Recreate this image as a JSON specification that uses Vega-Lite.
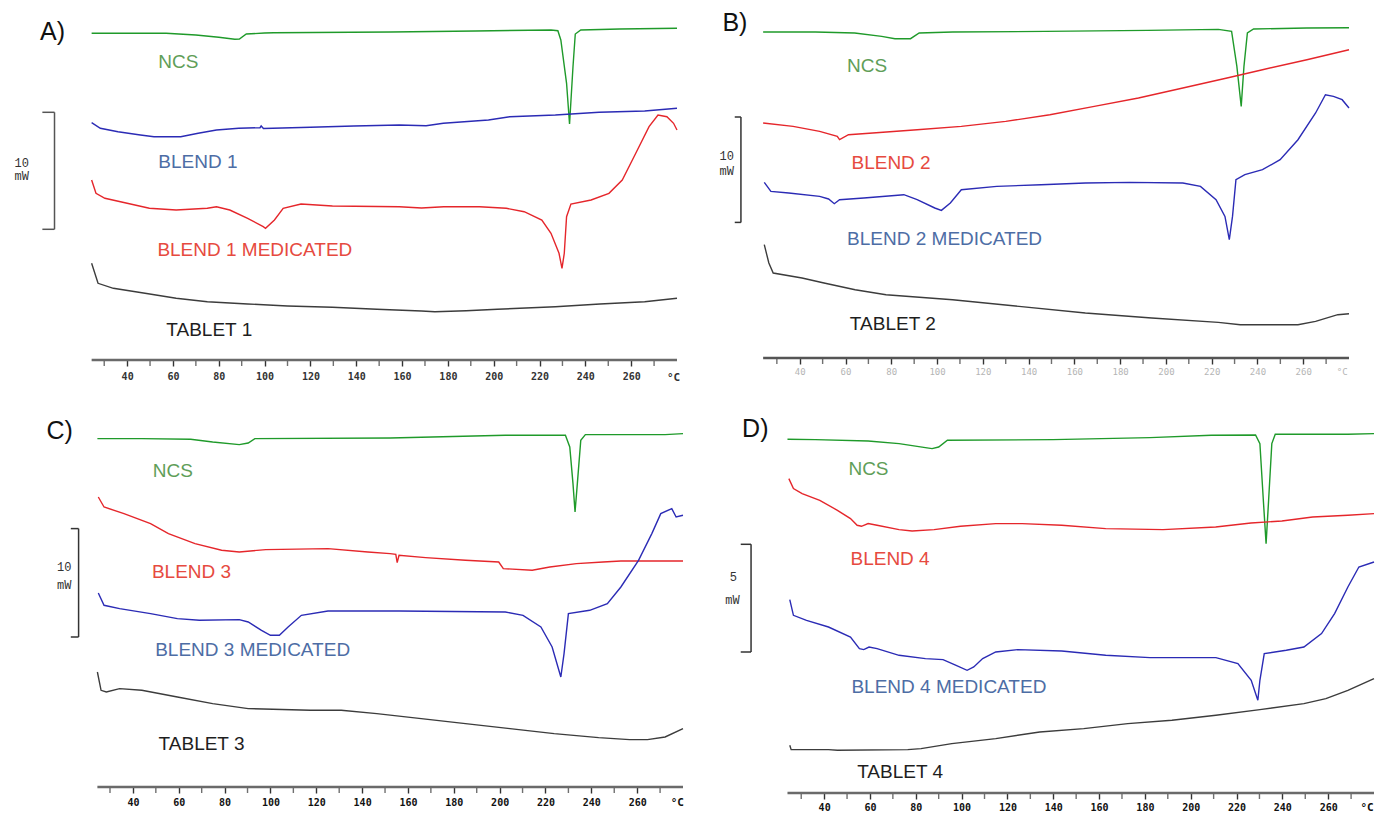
{
"$schema": "https://vega.github.io/schema/vega-lite/v6.json",
"padding": {"left": 8, "top": 10, "right": 0, "bottom": 0},
"background": "white",
"config": {"view": {"stroke": null}},
"columns": 2,
"spacing": {"row": 50, "column": 22},
"bounds": "flush",
"align": "each",
"datasets": {
"curves": [
{"p":"A","s":"NCS","T":24.5,"h":326.7},{"p":"A","s":"NCS","T":40,"h":326.7},{"p":"A","s":"NCS","T":57,"h":326.7},{"p":"A","s":"NCS","T":70,"h":325},{"p":"A","s":"NCS","T":80,"h":322.7},{"p":"A","s":"NCS","T":87,"h":320.7},{"p":"A","s":"NCS","T":89,"h":321},{"p":"A","s":"NCS","T":92,"h":326},{"p":"A","s":"NCS","T":100,"h":327},{"p":"A","s":"NCS","T":104,"h":327.3},{"p":"A","s":"NCS","T":155,"h":328},{"p":"A","s":"NCS","T":192,"h":329},{"p":"A","s":"NCS","T":225,"h":330},{"p":"A","s":"NCS","T":228,"h":329.3},{"p":"A","s":"NCS","T":229.3,"h":320},{"p":"A","s":"NCS","T":231.8,"h":276.7},{"p":"A","s":"NCS","T":233.1,"h":236},{"p":"A","s":"NCS","T":234.6,"h":293.3},{"p":"A","s":"NCS","T":235.6,"h":326},{"p":"A","s":"NCS","T":238,"h":330},{"p":"A","s":"NCS","T":255,"h":331},{"p":"A","s":"NCS","T":280,"h":331.7},
{"p":"A","s":"BLEND 1","T":24.5,"h":237.3},{"p":"A","s":"BLEND 1","T":28.3,"h":231.7},{"p":"A","s":"BLEND 1","T":36,"h":228.3},{"p":"A","s":"BLEND 1","T":45.8,"h":225},{"p":"A","s":"BLEND 1","T":51.7,"h":223.3},{"p":"A","s":"BLEND 1","T":63.4,"h":223.3},{"p":"A","s":"BLEND 1","T":71,"h":226.7},{"p":"A","s":"BLEND 1","T":79,"h":230},{"p":"A","s":"BLEND 1","T":88.7,"h":231.7},{"p":"A","s":"BLEND 1","T":98,"h":232.3},{"p":"A","s":"BLEND 1","T":98.5,"h":234},{"p":"A","s":"BLEND 1","T":99.5,"h":231.5},{"p":"A","s":"BLEND 1","T":120,"h":232.7},{"p":"A","s":"BLEND 1","T":139,"h":234},{"p":"A","s":"BLEND 1","T":158.8,"h":235},{"p":"A","s":"BLEND 1","T":170.5,"h":234.3},{"p":"A","s":"BLEND 1","T":178,"h":236.7},{"p":"A","s":"BLEND 1","T":197.7,"h":240},{"p":"A","s":"BLEND 1","T":207,"h":243.3},{"p":"A","s":"BLEND 1","T":226.9,"h":245},{"p":"A","s":"BLEND 1","T":246,"h":247.7},{"p":"A","s":"BLEND 1","T":265.9,"h":249},{"p":"A","s":"BLEND 1","T":280,"h":251.7},
{"p":"A","s":"BLEND 1 MEDICATED","T":24.5,"h":180},{"p":"A","s":"BLEND 1 MEDICATED","T":26.4,"h":166.7},{"p":"A","s":"BLEND 1 MEDICATED","T":30.3,"h":161.7},{"p":"A","s":"BLEND 1 MEDICATED","T":40,"h":156.7},{"p":"A","s":"BLEND 1 MEDICATED","T":49.7,"h":151.7},{"p":"A","s":"BLEND 1 MEDICATED","T":61.4,"h":150},{"p":"A","s":"BLEND 1 MEDICATED","T":75,"h":151.7},{"p":"A","s":"BLEND 1 MEDICATED","T":79,"h":153.3},{"p":"A","s":"BLEND 1 MEDICATED","T":84.8,"h":150},{"p":"A","s":"BLEND 1 MEDICATED","T":92.6,"h":141.7},{"p":"A","s":"BLEND 1 MEDICATED","T":99.4,"h":133.3},{"p":"A","s":"BLEND 1 MEDICATED","T":100.4,"h":131.7},{"p":"A","s":"BLEND 1 MEDICATED","T":104.3,"h":140},{"p":"A","s":"BLEND 1 MEDICATED","T":108.1,"h":151.7},{"p":"A","s":"BLEND 1 MEDICATED","T":115.9,"h":156},{"p":"A","s":"BLEND 1 MEDICATED","T":129.6,"h":154},{"p":"A","s":"BLEND 1 MEDICATED","T":158.8,"h":153.3},{"p":"A","s":"BLEND 1 MEDICATED","T":168.5,"h":152},{"p":"A","s":"BLEND 1 MEDICATED","T":178.2,"h":153.3},{"p":"A","s":"BLEND 1 MEDICATED","T":193.8,"h":153.3},{"p":"A","s":"BLEND 1 MEDICATED","T":205.5,"h":151.7},{"p":"A","s":"BLEND 1 MEDICATED","T":213.3,"h":148.3},{"p":"A","s":"BLEND 1 MEDICATED","T":221,"h":140},{"p":"A","s":"BLEND 1 MEDICATED","T":225,"h":126.7},{"p":"A","s":"BLEND 1 MEDICATED","T":228.5,"h":106.7},{"p":"A","s":"BLEND 1 MEDICATED","T":229.8,"h":91.7},{"p":"A","s":"BLEND 1 MEDICATED","T":230.8,"h":106.7},{"p":"A","s":"BLEND 1 MEDICATED","T":231.8,"h":143.3},{"p":"A","s":"BLEND 1 MEDICATED","T":233.7,"h":156},{"p":"A","s":"BLEND 1 MEDICATED","T":242.5,"h":160},{"p":"A","s":"BLEND 1 MEDICATED","T":250.3,"h":166.7},{"p":"A","s":"BLEND 1 MEDICATED","T":256.1,"h":180},{"p":"A","s":"BLEND 1 MEDICATED","T":262,"h":206.7},{"p":"A","s":"BLEND 1 MEDICATED","T":267.8,"h":233.3},{"p":"A","s":"BLEND 1 MEDICATED","T":271.7,"h":245},{"p":"A","s":"BLEND 1 MEDICATED","T":275.6,"h":243.3},{"p":"A","s":"BLEND 1 MEDICATED","T":278.5,"h":236.7},{"p":"A","s":"BLEND 1 MEDICATED","T":280,"h":230},
{"p":"A","s":"TABLET 1","T":24.5,"h":96.7},{"p":"A","s":"TABLET 1","T":27.3,"h":76.7},{"p":"A","s":"TABLET 1","T":34,"h":71.7},{"p":"A","s":"TABLET 1","T":47.8,"h":66.7},{"p":"A","s":"TABLET 1","T":61.4,"h":61.7},{"p":"A","s":"TABLET 1","T":75,"h":58.3},{"p":"A","s":"TABLET 1","T":92.6,"h":56},{"p":"A","s":"TABLET 1","T":110,"h":54},{"p":"A","s":"TABLET 1","T":129.6,"h":52.7},{"p":"A","s":"TABLET 1","T":149,"h":50.7},{"p":"A","s":"TABLET 1","T":168.5,"h":49},{"p":"A","s":"TABLET 1","T":174.3,"h":48.3},{"p":"A","s":"TABLET 1","T":188,"h":49.3},{"p":"A","s":"TABLET 1","T":201.6,"h":50.7},{"p":"A","s":"TABLET 1","T":226.9,"h":53.3},{"p":"A","s":"TABLET 1","T":246.4,"h":56},{"p":"A","s":"TABLET 1","T":265.9,"h":58.3},{"p":"A","s":"TABLET 1","T":280,"h":61.7},

{"p":"B","s":"NCS","T":24,"h":326},{"p":"B","s":"NCS","T":46.8,"h":326},{"p":"B","s":"NCS","T":64,"h":325},{"p":"B","s":"NCS","T":75.8,"h":321.6},{"p":"B","s":"NCS","T":81.6,"h":319.3},{"p":"B","s":"NCS","T":88.4,"h":319.3},{"p":"B","s":"NCS","T":92.2,"h":325},{"p":"B","s":"NCS","T":106.8,"h":326},{"p":"B","s":"NCS","T":147.4,"h":326.6},{"p":"B","s":"NCS","T":191.9,"h":327.6},{"p":"B","s":"NCS","T":222.9,"h":328.6},{"p":"B","s":"NCS","T":228.7,"h":326.6},{"p":"B","s":"NCS","T":231,"h":291.6},{"p":"B","s":"NCS","T":232.9,"h":251.6},{"p":"B","s":"NCS","T":234.1,"h":291.6},{"p":"B","s":"NCS","T":235.6,"h":325},{"p":"B","s":"NCS","T":238.3,"h":329},{"p":"B","s":"NCS","T":261.5,"h":330},{"p":"B","s":"NCS","T":280,"h":330.3},
{"p":"B","s":"BLEND 2","T":24,"h":235},{"p":"B","s":"BLEND 2","T":37.1,"h":231.6},{"p":"B","s":"BLEND 2","T":48.7,"h":226.6},{"p":"B","s":"BLEND 2","T":56.4,"h":221.6},{"p":"B","s":"BLEND 2","T":57.4,"h":218.3},{"p":"B","s":"BLEND 2","T":61.3,"h":223.3},{"p":"B","s":"BLEND 2","T":71.9,"h":225},{"p":"B","s":"BLEND 2","T":91.3,"h":228.3},{"p":"B","s":"BLEND 2","T":110.6,"h":231.6},{"p":"B","s":"BLEND 2","T":130,"h":236.6},{"p":"B","s":"BLEND 2","T":149.3,"h":243.3},{"p":"B","s":"BLEND 2","T":168.7,"h":251.6},{"p":"B","s":"BLEND 2","T":188,"h":260},{"p":"B","s":"BLEND 2","T":207.4,"h":270},{"p":"B","s":"BLEND 2","T":226.7,"h":280},{"p":"B","s":"BLEND 2","T":242.2,"h":288.3},{"p":"B","s":"BLEND 2","T":261.6,"h":298.3},{"p":"B","s":"BLEND 2","T":280,"h":308.3},
{"p":"B","s":"BLEND 2 MEDICATED","T":24.5,"h":175.6},{"p":"B","s":"BLEND 2 MEDICATED","T":27.4,"h":166.6},{"p":"B","s":"BLEND 2 MEDICATED","T":35.2,"h":165},{"p":"B","s":"BLEND 2 MEDICATED","T":48.7,"h":161.6},{"p":"B","s":"BLEND 2 MEDICATED","T":52.6,"h":159},{"p":"B","s":"BLEND 2 MEDICATED","T":55.1,"h":154.3},{"p":"B","s":"BLEND 2 MEDICATED","T":57.4,"h":158.3},{"p":"B","s":"BLEND 2 MEDICATED","T":68,"h":160},{"p":"B","s":"BLEND 2 MEDICATED","T":85.5,"h":163.3},{"p":"B","s":"BLEND 2 MEDICATED","T":91.3,"h":158.3},{"p":"B","s":"BLEND 2 MEDICATED","T":99,"h":150},{"p":"B","s":"BLEND 2 MEDICATED","T":101.9,"h":147.6},{"p":"B","s":"BLEND 2 MEDICATED","T":105.8,"h":155},{"p":"B","s":"BLEND 2 MEDICATED","T":110.6,"h":168.3},{"p":"B","s":"BLEND 2 MEDICATED","T":126.1,"h":171.6},{"p":"B","s":"BLEND 2 MEDICATED","T":145.5,"h":173.3},{"p":"B","s":"BLEND 2 MEDICATED","T":164.8,"h":175},{"p":"B","s":"BLEND 2 MEDICATED","T":184.2,"h":175.6},{"p":"B","s":"BLEND 2 MEDICATED","T":207.4,"h":175},{"p":"B","s":"BLEND 2 MEDICATED","T":215.1,"h":171.6},{"p":"B","s":"BLEND 2 MEDICATED","T":221.9,"h":158.3},{"p":"B","s":"BLEND 2 MEDICATED","T":225.8,"h":141.6},{"p":"B","s":"BLEND 2 MEDICATED","T":227.7,"h":118.3},{"p":"B","s":"BLEND 2 MEDICATED","T":229.1,"h":141.6},{"p":"B","s":"BLEND 2 MEDICATED","T":230.6,"h":178.3},{"p":"B","s":"BLEND 2 MEDICATED","T":234.5,"h":183.3},{"p":"B","s":"BLEND 2 MEDICATED","T":242.2,"h":188.3},{"p":"B","s":"BLEND 2 MEDICATED","T":249.9,"h":198.3},{"p":"B","s":"BLEND 2 MEDICATED","T":257.7,"h":218.3},{"p":"B","s":"BLEND 2 MEDICATED","T":265.4,"h":245},{"p":"B","s":"BLEND 2 MEDICATED","T":269.7,"h":263.3},{"p":"B","s":"BLEND 2 MEDICATED","T":273.2,"h":261.6},{"p":"B","s":"BLEND 2 MEDICATED","T":277,"h":258.3},{"p":"B","s":"BLEND 2 MEDICATED","T":280,"h":250},
{"p":"B","s":"TABLET 2","T":24.5,"h":113.3},{"p":"B","s":"TABLET 2","T":26.5,"h":95},{"p":"B","s":"TABLET 2","T":28.4,"h":85},{"p":"B","s":"TABLET 2","T":41,"h":80},{"p":"B","s":"TABLET 2","T":50.6,"h":75},{"p":"B","s":"TABLET 2","T":64.2,"h":68.3},{"p":"B","s":"TABLET 2","T":77.7,"h":63.3},{"p":"B","s":"TABLET 2","T":106.8,"h":58.3},{"p":"B","s":"TABLET 2","T":135.8,"h":51.6},{"p":"B","s":"TABLET 2","T":164.8,"h":45},{"p":"B","s":"TABLET 2","T":193.8,"h":40},{"p":"B","s":"TABLET 2","T":222.9,"h":35.6},{"p":"B","s":"TABLET 2","T":232.5,"h":33.3},{"p":"B","s":"TABLET 2","T":257.7,"h":33.3},{"p":"B","s":"TABLET 2","T":265.4,"h":36.6},{"p":"B","s":"TABLET 2","T":275.1,"h":43.3},{"p":"B","s":"TABLET 2","T":280,"h":44.3},

{"p":"C","s":"NCS","T":24.5,"h":348.4},{"p":"C","s":"NCS","T":43.9,"h":348.4},{"p":"C","s":"NCS","T":65.2,"h":347.7},{"p":"C","s":"NCS","T":74.8,"h":345},{"p":"C","s":"NCS","T":86.4,"h":342.4},{"p":"C","s":"NCS","T":90.3,"h":344},{"p":"C","s":"NCS","T":93.2,"h":348.4},{"p":"C","s":"NCS","T":152.2,"h":349},{"p":"C","s":"NCS","T":202.5,"h":351.7},{"p":"C","s":"NCS","T":228.7,"h":351.7},{"p":"C","s":"NCS","T":230.6,"h":340},{"p":"C","s":"NCS","T":232,"h":303.4},{"p":"C","s":"NCS","T":232.9,"h":275},{"p":"C","s":"NCS","T":233.9,"h":303.4},{"p":"C","s":"NCS","T":235.4,"h":346.7},{"p":"C","s":"NCS","T":237.4,"h":352.4},{"p":"C","s":"NCS","T":272.2,"h":352.4},{"p":"C","s":"NCS","T":280,"h":353.4},
{"p":"C","s":"BLEND 3","T":24.9,"h":290},{"p":"C","s":"BLEND 3","T":27.4,"h":280},{"p":"C","s":"BLEND 3","T":36.1,"h":273.4},{"p":"C","s":"BLEND 3","T":47.7,"h":263.4},{"p":"C","s":"BLEND 3","T":55.5,"h":253.4},{"p":"C","s":"BLEND 3","T":67.1,"h":243.4},{"p":"C","s":"BLEND 3","T":78.7,"h":236.7},{"p":"C","s":"BLEND 3","T":86.4,"h":235},{"p":"C","s":"BLEND 3","T":98,"h":237.4},{"p":"C","s":"BLEND 3","T":125.1,"h":238.4},{"p":"C","s":"BLEND 3","T":142.5,"h":235},{"p":"C","s":"BLEND 3","T":152.2,"h":233.4},{"p":"C","s":"BLEND 3","T":154.7,"h":232.7},{"p":"C","s":"BLEND 3","T":155.3,"h":224.4},{"p":"C","s":"BLEND 3","T":156.1,"h":231.7},{"p":"C","s":"BLEND 3","T":167.7,"h":229.4},{"p":"C","s":"BLEND 3","T":185.1,"h":226.7},{"p":"C","s":"BLEND 3","T":199.6,"h":225},{"p":"C","s":"BLEND 3","T":201.6,"h":218.4},{"p":"C","s":"BLEND 3","T":214.2,"h":216.7},{"p":"C","s":"BLEND 3","T":221.9,"h":220},{"p":"C","s":"BLEND 3","T":233.5,"h":223.4},{"p":"C","s":"BLEND 3","T":245.1,"h":225},{"p":"C","s":"BLEND 3","T":252.9,"h":226},{"p":"C","s":"BLEND 3","T":280,"h":226},
{"p":"C","s":"BLEND 3 MEDICATED","T":24.9,"h":194},{"p":"C","s":"BLEND 3 MEDICATED","T":27.4,"h":181.7},{"p":"C","s":"BLEND 3 MEDICATED","T":34.2,"h":178.4},{"p":"C","s":"BLEND 3 MEDICATED","T":47.7,"h":173.4},{"p":"C","s":"BLEND 3 MEDICATED","T":59.4,"h":168.4},{"p":"C","s":"BLEND 3 MEDICATED","T":69,"h":166.7},{"p":"C","s":"BLEND 3 MEDICATED","T":86.4,"h":167.4},{"p":"C","s":"BLEND 3 MEDICATED","T":90.3,"h":165},{"p":"C","s":"BLEND 3 MEDICATED","T":96.1,"h":156.7},{"p":"C","s":"BLEND 3 MEDICATED","T":100,"h":151.7},{"p":"C","s":"BLEND 3 MEDICATED","T":103.9,"h":151.7},{"p":"C","s":"BLEND 3 MEDICATED","T":107.7,"h":160},{"p":"C","s":"BLEND 3 MEDICATED","T":113.5,"h":171.7},{"p":"C","s":"BLEND 3 MEDICATED","T":125.1,"h":176},{"p":"C","s":"BLEND 3 MEDICATED","T":156.1,"h":176},{"p":"C","s":"BLEND 3 MEDICATED","T":202.5,"h":175},{"p":"C","s":"BLEND 3 MEDICATED","T":210.2,"h":171.7},{"p":"C","s":"BLEND 3 MEDICATED","T":218,"h":160},{"p":"C","s":"BLEND 3 MEDICATED","T":222.9,"h":140},{"p":"C","s":"BLEND 3 MEDICATED","T":226.7,"h":110},{"p":"C","s":"BLEND 3 MEDICATED","T":228.1,"h":133.4},{"p":"C","s":"BLEND 3 MEDICATED","T":230,"h":173.4},{"p":"C","s":"BLEND 3 MEDICATED","T":239.3,"h":176.7},{"p":"C","s":"BLEND 3 MEDICATED","T":247,"h":183.4},{"p":"C","s":"BLEND 3 MEDICATED","T":252.9,"h":200},{"p":"C","s":"BLEND 3 MEDICATED","T":260.6,"h":226.7},{"p":"C","s":"BLEND 3 MEDICATED","T":266.4,"h":253.4},{"p":"C","s":"BLEND 3 MEDICATED","T":270.3,"h":273.4},{"p":"C","s":"BLEND 3 MEDICATED","T":275.1,"h":278.4},{"p":"C","s":"BLEND 3 MEDICATED","T":277,"h":270},{"p":"C","s":"BLEND 3 MEDICATED","T":280,"h":271.7},
{"p":"C","s":"TABLET 3","T":24.5,"h":115},{"p":"C","s":"TABLET 3","T":26.1,"h":96.7},{"p":"C","s":"TABLET 3","T":28.4,"h":95},{"p":"C","s":"TABLET 3","T":34.2,"h":98.4},{"p":"C","s":"TABLET 3","T":43.9,"h":96.7},{"p":"C","s":"TABLET 3","T":59.4,"h":90},{"p":"C","s":"TABLET 3","T":74.8,"h":83.4},{"p":"C","s":"TABLET 3","T":90.3,"h":78.4},{"p":"C","s":"TABLET 3","T":117.4,"h":76.7},{"p":"C","s":"TABLET 3","T":130.9,"h":76.7},{"p":"C","s":"TABLET 3","T":146.4,"h":73.4},{"p":"C","s":"TABLET 3","T":165.8,"h":68.4},{"p":"C","s":"TABLET 3","T":185.1,"h":63.4},{"p":"C","s":"TABLET 3","T":204.5,"h":58.4},{"p":"C","s":"TABLET 3","T":223.8,"h":53.4},{"p":"C","s":"TABLET 3","T":243.2,"h":49.4},{"p":"C","s":"TABLET 3","T":256.7,"h":47.4},{"p":"C","s":"TABLET 3","T":264.5,"h":47.4},{"p":"C","s":"TABLET 3","T":272.2,"h":50},{"p":"C","s":"TABLET 3","T":280,"h":58.4},

{"p":"D","s":"NCS","T":24,"h":353.7},{"p":"D","s":"NCS","T":36.2,"h":353.4},{"p":"D","s":"NCS","T":59.2,"h":352},{"p":"D","s":"NCS","T":72.7,"h":349.4},{"p":"D","s":"NCS","T":84.2,"h":345.4},{"p":"D","s":"NCS","T":87.1,"h":344.4},{"p":"D","s":"NCS","T":90,"h":346},{"p":"D","s":"NCS","T":93.8,"h":352.7},{"p":"D","s":"NCS","T":139.9,"h":353.4},{"p":"D","s":"NCS","T":182.2,"h":355.4},{"p":"D","s":"NCS","T":209,"h":357.7},{"p":"D","s":"NCS","T":228.3,"h":358},{"p":"D","s":"NCS","T":230.2,"h":349.4},{"p":"D","s":"NCS","T":231.7,"h":292.7},{"p":"D","s":"NCS","T":232.9,"h":249.4},{"p":"D","s":"NCS","T":234,"h":292.7},{"p":"D","s":"NCS","T":235.4,"h":349.4},{"p":"D","s":"NCS","T":236.9,"h":358.7},{"p":"D","s":"NCS","T":268.6,"h":358.7},{"p":"D","s":"NCS","T":280,"h":359.4},
{"p":"D","s":"BLEND 4","T":24.6,"h":314.4},{"p":"D","s":"BLEND 4","T":26.6,"h":304.4},{"p":"D","s":"BLEND 4","T":30.4,"h":299.4},{"p":"D","s":"BLEND 4","T":38.1,"h":292.7},{"p":"D","s":"BLEND 4","T":45.8,"h":282.7},{"p":"D","s":"BLEND 4","T":51.5,"h":274.4},{"p":"D","s":"BLEND 4","T":54.4,"h":267.7},{"p":"D","s":"BLEND 4","T":56.3,"h":266.7},{"p":"D","s":"BLEND 4","T":59.2,"h":269.4},{"p":"D","s":"BLEND 4","T":63.1,"h":267.7},{"p":"D","s":"BLEND 4","T":72.7,"h":263.4},{"p":"D","s":"BLEND 4","T":78.4,"h":262},{"p":"D","s":"BLEND 4","T":88,"h":263.4},{"p":"D","s":"BLEND 4","T":99.5,"h":266.7},{"p":"D","s":"BLEND 4","T":114.9,"h":269.4},{"p":"D","s":"BLEND 4","T":126.4,"h":269.4},{"p":"D","s":"BLEND 4","T":143.7,"h":267.7},{"p":"D","s":"BLEND 4","T":162.9,"h":264.4},{"p":"D","s":"BLEND 4","T":187.9,"h":263.4},{"p":"D","s":"BLEND 4","T":210.9,"h":266},{"p":"D","s":"BLEND 4","T":226.3,"h":270},{"p":"D","s":"BLEND 4","T":239.8,"h":272},{"p":"D","s":"BLEND 4","T":253.2,"h":276},{"p":"D","s":"BLEND 4","T":268.6,"h":277.7},{"p":"D","s":"BLEND 4","T":280,"h":279.4},
{"p":"D","s":"BLEND 4 MEDICATED","T":25,"h":193.4},{"p":"D","s":"BLEND 4 MEDICATED","T":26.6,"h":177.7},{"p":"D","s":"BLEND 4 MEDICATED","T":32.3,"h":172.7},{"p":"D","s":"BLEND 4 MEDICATED","T":41.9,"h":166},{"p":"D","s":"BLEND 4 MEDICATED","T":51.5,"h":156},{"p":"D","s":"BLEND 4 MEDICATED","T":55.4,"h":144.4},{"p":"D","s":"BLEND 4 MEDICATED","T":57.3,"h":143.4},{"p":"D","s":"BLEND 4 MEDICATED","T":59.6,"h":146},{"p":"D","s":"BLEND 4 MEDICATED","T":63.1,"h":144.4},{"p":"D","s":"BLEND 4 MEDICATED","T":72.7,"h":137.7},{"p":"D","s":"BLEND 4 MEDICATED","T":84.2,"h":134.4},{"p":"D","s":"BLEND 4 MEDICATED","T":91.9,"h":133.4},{"p":"D","s":"BLEND 4 MEDICATED","T":97.6,"h":127.7},{"p":"D","s":"BLEND 4 MEDICATED","T":102.4,"h":122.7},{"p":"D","s":"BLEND 4 MEDICATED","T":105.3,"h":126},{"p":"D","s":"BLEND 4 MEDICATED","T":109.2,"h":134.4},{"p":"D","s":"BLEND 4 MEDICATED","T":114.9,"h":141},{"p":"D","s":"BLEND 4 MEDICATED","T":124.5,"h":143.4},{"p":"D","s":"BLEND 4 MEDICATED","T":143.7,"h":142},{"p":"D","s":"BLEND 4 MEDICATED","T":162.9,"h":137.7},{"p":"D","s":"BLEND 4 MEDICATED","T":182.2,"h":135.4},{"p":"D","s":"BLEND 4 MEDICATED","T":211,"h":135.4},{"p":"D","s":"BLEND 4 MEDICATED","T":220.6,"h":129.4},{"p":"D","s":"BLEND 4 MEDICATED","T":226.4,"h":112.7},{"p":"D","s":"BLEND 4 MEDICATED","T":229.3,"h":92.7},{"p":"D","s":"BLEND 4 MEDICATED","T":230.2,"h":112.7},{"p":"D","s":"BLEND 4 MEDICATED","T":232.1,"h":139.4},{"p":"D","s":"BLEND 4 MEDICATED","T":241.7,"h":142.7},{"p":"D","s":"BLEND 4 MEDICATED","T":249.4,"h":146},{"p":"D","s":"BLEND 4 MEDICATED","T":257.1,"h":159.4},{"p":"D","s":"BLEND 4 MEDICATED","T":262.8,"h":179.4},{"p":"D","s":"BLEND 4 MEDICATED","T":268.6,"h":206},{"p":"D","s":"BLEND 4 MEDICATED","T":273.4,"h":226},{"p":"D","s":"BLEND 4 MEDICATED","T":280,"h":231},
{"p":"D","s":"TABLET 4","T":25,"h":47.7},{"p":"D","s":"TABLET 4","T":25.6,"h":43.4},{"p":"D","s":"TABLET 4","T":41.9,"h":43.4},{"p":"D","s":"TABLET 4","T":45.8,"h":42.7},{"p":"D","s":"TABLET 4","T":76.5,"h":43.4},{"p":"D","s":"TABLET 4","T":82.3,"h":44.4},{"p":"D","s":"TABLET 4","T":95.7,"h":49.4},{"p":"D","s":"TABLET 4","T":114.9,"h":54.4},{"p":"D","s":"TABLET 4","T":134.1,"h":61},{"p":"D","s":"TABLET 4","T":153.3,"h":64.4},{"p":"D","s":"TABLET 4","T":172.5,"h":69.4},{"p":"D","s":"TABLET 4","T":191.8,"h":72.7},{"p":"D","s":"TABLET 4","T":211,"h":77.7},{"p":"D","s":"TABLET 4","T":230.2,"h":83.4},{"p":"D","s":"TABLET 4","T":249.4,"h":89.4},{"p":"D","s":"TABLET 4","T":259,"h":94.4},{"p":"D","s":"TABLET 4","T":268.6,"h":102.7},{"p":"D","s":"TABLET 4","T":280,"h":114.4}
],
"labels": [
{"p":"A","s":"NCS","T":53.6,"h":298.3},{"p":"A","s":"BLEND 1","T":53.6,"h":198.3},{"p":"A","s":"BLEND 1 MEDICATED","T":53.2,"h":110},{"p":"A","s":"TABLET 1","T":57.1,"h":30},
{"p":"B","s":"NCS","T":60.7,"h":291.6},{"p":"B","s":"BLEND 2","T":62.6,"h":195},{"p":"B","s":"BLEND 2 MEDICATED","T":60.7,"h":119},{"p":"B","s":"TABLET 2","T":61.9,"h":34.3},
{"p":"C","s":"NCS","T":48.7,"h":316},{"p":"C","s":"BLEND 3","T":48.3,"h":215},{"p":"C","s":"BLEND 3 MEDICATED","T":49.7,"h":136.7},{"p":"C","s":"TABLET 3","T":51.2,"h":42.7},
{"p":"D","s":"NCS","T":50.6,"h":324.4},{"p":"D","s":"BLEND 4","T":51.5,"h":234.4},{"p":"D","s":"BLEND 4 MEDICATED","T":51.9,"h":106},{"p":"D","s":"TABLET 4","T":54.4,"h":21}
],
"letters": [
{"p":"A","t":"A)","T":2,"h":327.7},{"p":"B","t":"B)","T":6.2,"h":335},{"p":"C","t":"C)","T":2.3,"h":356},{"p":"D","t":"D)","T":4.2,"h":364.4}
],
"bars": [
{"p":"A","Tb":8.3,"Tl":3,"top":247.7,"bot":130.7},{"p":"B","Tb":14.3,"Tl":11.6,"top":241,"bot":135.6},{"p":"C","Tb":16.3,"Tl":12.9,"top":258.4,"bot":150},{"p":"D","Tb":8.1,"Tl":3.6,"top":248.7,"bot":141}
],
"barText": [
{"p":"A","t":"10","T":-6,"h":197},{"p":"A","t":"mW","T":-6,"h":184},
{"p":"B","t":"10","T":8.1,"h":201.6},{"p":"B","t":"mW","T":8.1,"h":186.6},
{"p":"C","t":"10","T":10,"h":220},{"p":"C","t":"mW","T":10,"h":201.7},
{"p":"D","t":"5","T":0.4,"h":216},{"p":"D","t":"mW","T":0,"h":193.4}
],
"scan": [
{"p":"A","Tmin":24.5,"Tmax":280,"base":0,"Tu":278.5,"u":"°C"},
{"p":"B","Tmin":24,"Tmax":280,"base":0,"Tu":277,"u":"°C"},
{"p":"C","Tmin":24.5,"Tmax":280,"base":0,"Tu":277.5,"u":"°C"},
{"p":"D","Tmin":24,"Tmax":280,"base":0,"Tu":277,"u":"°C"}
],
"minor": [
{"m":30,"base":0},{"m":50,"base":0},{"m":70,"base":0},{"m":90,"base":0},{"m":110,"base":0},{"m":130,"base":0},{"m":150,"base":0},{"m":170,"base":0},{"m":190,"base":0},{"m":210,"base":0},{"m":230,"base":0},{"m":250,"base":0},{"m":270,"base":0}
]
},
"concat": [
{
"width": 669, "height": 350,
"layer": [
{"data": {"name": "curves"}, "transform": [{"filter": "datum.p === 'A'"}],
 "mark": {"type": "line", "strokeWidth": 1.4},
 "encoding": {
  "x": {"field": "T", "type": "quantitative", "scale": {"domain": [-12, 280], "nice": false, "zero": false},
        "axis": {"values": [40,60,80,100,120,140,160,180,200,220,240,260], "domain": false, "grid": false, "title": null, "tickSize": 6, "tickWidth": 1.4, "tickColor": "#333", "labelFont": "DejaVu Sans Mono", "labelFontSize": 10, "labelFontWeight": "bold", "labelColor": "#333", "labelPadding": 5, "labelFlush": false, "labelOverlap": false}},
  "y": {"field": "h", "type": "quantitative", "scale": {"domain": [0, 350], "nice": false, "zero": false}, "axis": null},
  "stroke": {"field": "s", "type": "nominal", "legend": null, "scale": {"domain": ["NCS","BLEND 1","BLEND 1 MEDICATED","TABLET 1","BLEND 2","BLEND 2 MEDICATED","TABLET 2","BLEND 3","BLEND 3 MEDICATED","TABLET 3","BLEND 4","BLEND 4 MEDICATED","TABLET 4"], "range": ["#1f9a2a","#2b2bb5","#e5262b","#3c3c3c","#e5262b","#2b2bb5","#3c3c3c","#e5262b","#2b2bb5","#3c3c3c","#e5262b","#2b2bb5","#3c3c3c"]}}
 }},
{"data": {"name": "minor"},
 "mark": {"type": "tick", "orient": "vertical", "size": 6, "thickness": 1.4, "color": "#333", "yOffset": 3},
 "encoding": {"x": {"field": "m", "type": "quantitative", "title": null}, "y": {"field": "base", "type": "quantitative", "axis": null}}},
{"data": {"name": "scan"}, "transform": [{"filter": "datum.p === 'A'"}],
 "mark": {"type": "rule", "color": "#6a6a6a", "strokeWidth": 2.5},
 "encoding": {"x": {"field": "Tmin", "type": "quantitative", "title": null}, "x2": {"field": "Tmax"}, "y": {"field": "base", "type": "quantitative", "axis": null}}},
{"data": {"name": "scan"}, "transform": [{"filter": "datum.p === 'A'"}],
 "mark": {"type": "text", "dy": 18, "align": "center", "baseline": "middle", "font": "DejaVu Sans Mono", "fontSize": 11, "fontWeight": "bold", "color": "#333"},
 "encoding": {"x": {"field": "Tu", "type": "quantitative", "title": null}, "y": {"field": "base", "type": "quantitative", "axis": null}, "text": {"field": "u"}}},
{"data": {"name": "labels"}, "transform": [{"filter": "datum.p === 'A'"}],
 "mark": {"type": "text", "align": "left", "baseline": "middle", "font": "Liberation Sans", "fontSize": 19},
 "encoding": {"x": {"field": "T", "type": "quantitative", "title": null}, "y": {"field": "h", "type": "quantitative", "axis": null}, "text": {"field": "s"},
  "fill": {"field": "s", "type": "nominal", "legend": null, "scale": {"domain": ["NCS","BLEND 1","BLEND 1 MEDICATED","TABLET 1","BLEND 2","BLEND 2 MEDICATED","TABLET 2","BLEND 3","BLEND 3 MEDICATED","TABLET 3","BLEND 4","BLEND 4 MEDICATED","TABLET 4"], "range": ["#5f9e58","#4d6da5","#e64a40","#1e1e1e","#e64a40","#4d6da5","#1e1e1e","#e64a40","#4d6da5","#1e1e1e","#e64a40","#4d6da5","#1e1e1e"]}}}},
{"data": {"name": "letters"}, "transform": [{"filter": "datum.p === 'A'"}],
 "mark": {"type": "text", "align": "left", "baseline": "middle", "font": "Liberation Sans", "fontSize": 25, "color": "#111"},
 "encoding": {"x": {"field": "T", "type": "quantitative", "title": null}, "y": {"field": "h", "type": "quantitative", "axis": null}, "text": {"field": "t"}}},
{"data": {"name": "bars"}, "transform": [{"filter": "datum.p === 'A'"}],
 "mark": {"type": "rule", "color": "#555", "strokeWidth": 1.5},
 "encoding": {"x": {"field": "Tb", "type": "quantitative", "title": null}, "y": {"field": "top", "type": "quantitative", "axis": null}, "y2": {"field": "bot"}}},
{"data": {"name": "bars"}, "transform": [{"filter": "datum.p === 'A'"}],
 "mark": {"type": "rule", "color": "#555", "strokeWidth": 1.5},
 "encoding": {"x": {"field": "Tl", "type": "quantitative", "title": null}, "x2": {"field": "Tb"}, "y": {"field": "top", "type": "quantitative", "axis": null}}},
{"data": {"name": "bars"}, "transform": [{"filter": "datum.p === 'A'"}],
 "mark": {"type": "rule", "color": "#555", "strokeWidth": 1.5},
 "encoding": {"x": {"field": "Tl", "type": "quantitative", "title": null}, "x2": {"field": "Tb"}, "y": {"field": "bot", "type": "quantitative", "axis": null}}},
{"data": {"name": "barText"}, "transform": [{"filter": "datum.p === 'A'"}],
 "mark": {"type": "text", "align": "center", "baseline": "middle", "font": "Liberation Mono", "fontSize": 12, "color": "#333"},
 "encoding": {"x": {"field": "T", "type": "quantitative", "title": null}, "y": {"field": "h", "type": "quantitative", "axis": null}, "text": {"field": "t"}}}
]
},
{
"width": 644, "height": 348,
"layer": [
{"data": {"name": "curves"}, "transform": [{"filter": "datum.p === 'B'"}],
 "mark": {"type": "line", "strokeWidth": 1.4},
 "encoding": {
  "x": {"field": "T", "type": "quantitative", "scale": {"domain": [-1.4, 280], "nice": false, "zero": false},
        "axis": {"values": [40,60,80,100,120,140,160,180,200,220,240,260], "domain": false, "grid": false, "title": null, "tickSize": 6, "tickWidth": 1.4, "tickColor": "#333", "labelFont": "DejaVu Sans Mono", "labelFontSize": 9, "labelColor": "#b5b5b5", "labelPadding": 3, "labelFlush": false, "labelOverlap": false}},
  "y": {"field": "h", "type": "quantitative", "scale": {"domain": [0, 348], "nice": false, "zero": false}, "axis": null},
  "stroke": {"field": "s", "type": "nominal", "legend": null, "scale": {"domain": ["NCS","BLEND 1","BLEND 1 MEDICATED","TABLET 1","BLEND 2","BLEND 2 MEDICATED","TABLET 2","BLEND 3","BLEND 3 MEDICATED","TABLET 3","BLEND 4","BLEND 4 MEDICATED","TABLET 4"], "range": ["#1f9a2a","#2b2bb5","#e5262b","#3c3c3c","#e5262b","#2b2bb5","#3c3c3c","#e5262b","#2b2bb5","#3c3c3c","#e5262b","#2b2bb5","#3c3c3c"]}}
 }},
{"data": {"name": "minor"},
 "mark": {"type": "tick", "orient": "vertical", "size": 6, "thickness": 1.4, "color": "#333", "yOffset": 3},
 "encoding": {"x": {"field": "m", "type": "quantitative", "title": null}, "y": {"field": "base", "type": "quantitative", "axis": null}}},
{"data": {"name": "scan"}, "transform": [{"filter": "datum.p === 'B'"}],
 "mark": {"type": "rule", "color": "#555", "strokeWidth": 2.5},
 "encoding": {"x": {"field": "Tmin", "type": "quantitative", "title": null}, "x2": {"field": "Tmax"}, "y": {"field": "base", "type": "quantitative", "axis": null}}},
{"data": {"name": "scan"}, "transform": [{"filter": "datum.p === 'B'"}],
 "mark": {"type": "text", "dy": 14, "align": "center", "baseline": "middle", "font": "DejaVu Sans Mono", "fontSize": 9, "color": "#b5b5b5"},
 "encoding": {"x": {"field": "Tu", "type": "quantitative", "title": null}, "y": {"field": "base", "type": "quantitative", "axis": null}, "text": {"field": "u"}}},
{"data": {"name": "labels"}, "transform": [{"filter": "datum.p === 'B'"}],
 "mark": {"type": "text", "align": "left", "baseline": "middle", "font": "Liberation Sans", "fontSize": 19},
 "encoding": {"x": {"field": "T", "type": "quantitative", "title": null}, "y": {"field": "h", "type": "quantitative", "axis": null}, "text": {"field": "s"},
  "fill": {"field": "s", "type": "nominal", "legend": null, "scale": {"domain": ["NCS","BLEND 1","BLEND 1 MEDICATED","TABLET 1","BLEND 2","BLEND 2 MEDICATED","TABLET 2","BLEND 3","BLEND 3 MEDICATED","TABLET 3","BLEND 4","BLEND 4 MEDICATED","TABLET 4"], "range": ["#5f9e58","#4d6da5","#e64a40","#1e1e1e","#e64a40","#4d6da5","#1e1e1e","#e64a40","#4d6da5","#1e1e1e","#e64a40","#4d6da5","#1e1e1e"]}}}},
{"data": {"name": "letters"}, "transform": [{"filter": "datum.p === 'B'"}],
 "mark": {"type": "text", "align": "left", "baseline": "middle", "font": "Liberation Sans", "fontSize": 25, "color": "#111"},
 "encoding": {"x": {"field": "T", "type": "quantitative", "title": null}, "y": {"field": "h", "type": "quantitative", "axis": null}, "text": {"field": "t"}}},
{"data": {"name": "bars"}, "transform": [{"filter": "datum.p === 'B'"}],
 "mark": {"type": "rule", "color": "#333", "strokeWidth": 1.5},
 "encoding": {"x": {"field": "Tb", "type": "quantitative", "title": null}, "y": {"field": "top", "type": "quantitative", "axis": null}, "y2": {"field": "bot"}}},
{"data": {"name": "bars"}, "transform": [{"filter": "datum.p === 'B'"}],
 "mark": {"type": "rule", "color": "#333", "strokeWidth": 1.5},
 "encoding": {"x": {"field": "Tl", "type": "quantitative", "title": null}, "x2": {"field": "Tb"}, "y": {"field": "top", "type": "quantitative", "axis": null}}},
{"data": {"name": "bars"}, "transform": [{"filter": "datum.p === 'B'"}],
 "mark": {"type": "rule", "color": "#333", "strokeWidth": 1.5},
 "encoding": {"x": {"field": "Tl", "type": "quantitative", "title": null}, "x2": {"field": "Tb"}, "y": {"field": "bot", "type": "quantitative", "axis": null}}},
{"data": {"name": "barText"}, "transform": [{"filter": "datum.p === 'B'"}],
 "mark": {"type": "text", "align": "center", "baseline": "middle", "font": "Liberation Mono", "fontSize": 12, "color": "#333"},
 "encoding": {"x": {"field": "T", "type": "quantitative", "title": null}, "y": {"field": "h", "type": "quantitative", "axis": null}, "text": {"field": "t"}}}
]
},
{
"width": 675, "height": 377,
"layer": [
{"data": {"name": "curves"}, "transform": [{"filter": "datum.p === 'C'"}],
 "mark": {"type": "line", "strokeWidth": 1.4},
 "encoding": {
  "x": {"field": "T", "type": "quantitative", "scale": {"domain": [-14.5, 280], "nice": false, "zero": false},
        "axis": {"values": [40,60,80,100,120,140,160,180,200,220,240,260], "domain": false, "grid": false, "title": null, "tickSize": 6, "tickWidth": 1.4, "tickColor": "#333", "labelFont": "DejaVu Sans Mono", "labelFontSize": 10, "labelFontWeight": "bold", "labelColor": "#111", "labelPadding": 4, "labelFlush": false, "labelOverlap": false}},
  "y": {"field": "h", "type": "quantitative", "scale": {"domain": [0, 377], "nice": false, "zero": false}, "axis": null},
  "stroke": {"field": "s", "type": "nominal", "legend": null, "scale": {"domain": ["NCS","BLEND 1","BLEND 1 MEDICATED","TABLET 1","BLEND 2","BLEND 2 MEDICATED","TABLET 2","BLEND 3","BLEND 3 MEDICATED","TABLET 3","BLEND 4","BLEND 4 MEDICATED","TABLET 4"], "range": ["#1f9a2a","#2b2bb5","#e5262b","#3c3c3c","#e5262b","#2b2bb5","#3c3c3c","#e5262b","#2b2bb5","#3c3c3c","#e5262b","#2b2bb5","#3c3c3c"]}}
 }},
{"data": {"name": "minor"},
 "mark": {"type": "tick", "orient": "vertical", "size": 6, "thickness": 1.4, "color": "#333", "yOffset": 3},
 "encoding": {"x": {"field": "m", "type": "quantitative", "title": null}, "y": {"field": "base", "type": "quantitative", "axis": null}}},
{"data": {"name": "scan"}, "transform": [{"filter": "datum.p === 'C'"}],
 "mark": {"type": "rule", "color": "#6a6a6a", "strokeWidth": 2.5},
 "encoding": {"x": {"field": "Tmin", "type": "quantitative", "title": null}, "x2": {"field": "Tmax"}, "y": {"field": "base", "type": "quantitative", "axis": null}}},
{"data": {"name": "scan"}, "transform": [{"filter": "datum.p === 'C'"}],
 "mark": {"type": "text", "dy": 16, "align": "center", "baseline": "middle", "font": "DejaVu Sans Mono", "fontSize": 11, "fontWeight": "bold", "color": "#111"},
 "encoding": {"x": {"field": "Tu", "type": "quantitative", "title": null}, "y": {"field": "base", "type": "quantitative", "axis": null}, "text": {"field": "u"}}},
{"data": {"name": "labels"}, "transform": [{"filter": "datum.p === 'C'"}],
 "mark": {"type": "text", "align": "left", "baseline": "middle", "font": "Liberation Sans", "fontSize": 19},
 "encoding": {"x": {"field": "T", "type": "quantitative", "title": null}, "y": {"field": "h", "type": "quantitative", "axis": null}, "text": {"field": "s"},
  "fill": {"field": "s", "type": "nominal", "legend": null, "scale": {"domain": ["NCS","BLEND 1","BLEND 1 MEDICATED","TABLET 1","BLEND 2","BLEND 2 MEDICATED","TABLET 2","BLEND 3","BLEND 3 MEDICATED","TABLET 3","BLEND 4","BLEND 4 MEDICATED","TABLET 4"], "range": ["#5f9e58","#4d6da5","#e64a40","#1e1e1e","#e64a40","#4d6da5","#1e1e1e","#e64a40","#4d6da5","#1e1e1e","#e64a40","#4d6da5","#1e1e1e"]}}}},
{"data": {"name": "letters"}, "transform": [{"filter": "datum.p === 'C'"}],
 "mark": {"type": "text", "align": "left", "baseline": "middle", "font": "Liberation Sans", "fontSize": 25, "color": "#111"},
 "encoding": {"x": {"field": "T", "type": "quantitative", "title": null}, "y": {"field": "h", "type": "quantitative", "axis": null}, "text": {"field": "t"}}},
{"data": {"name": "bars"}, "transform": [{"filter": "datum.p === 'C'"}],
 "mark": {"type": "rule", "color": "#333", "strokeWidth": 1.5},
 "encoding": {"x": {"field": "Tb", "type": "quantitative", "title": null}, "y": {"field": "top", "type": "quantitative", "axis": null}, "y2": {"field": "bot"}}},
{"data": {"name": "bars"}, "transform": [{"filter": "datum.p === 'C'"}],
 "mark": {"type": "rule", "color": "#333", "strokeWidth": 1.5},
 "encoding": {"x": {"field": "Tl", "type": "quantitative", "title": null}, "x2": {"field": "Tb"}, "y": {"field": "top", "type": "quantitative", "axis": null}}},
{"data": {"name": "bars"}, "transform": [{"filter": "datum.p === 'C'"}],
 "mark": {"type": "rule", "color": "#333", "strokeWidth": 1.5},
 "encoding": {"x": {"field": "Tl", "type": "quantitative", "title": null}, "x2": {"field": "Tb"}, "y": {"field": "bot", "type": "quantitative", "axis": null}}},
{"data": {"name": "barText"}, "transform": [{"filter": "datum.p === 'C'"}],
 "mark": {"type": "text", "align": "center", "baseline": "middle", "font": "Liberation Mono", "fontSize": 12, "color": "#333"},
 "encoding": {"x": {"field": "T", "type": "quantitative", "title": null}, "y": {"field": "h", "type": "quantitative", "axis": null}, "text": {"field": "t"}}}
]
},
{
"width": 669, "height": 383,
"layer": [
{"data": {"name": "curves"}, "transform": [{"filter": "datum.p === 'D'"}],
 "mark": {"type": "line", "strokeWidth": 1.4},
 "encoding": {
  "x": {"field": "T", "type": "quantitative", "scale": {"domain": [-12, 280], "nice": false, "zero": false},
        "axis": {"values": [40,60,80,100,120,140,160,180,200,220,240,260], "domain": false, "grid": false, "title": null, "tickSize": 6, "tickWidth": 1.4, "tickColor": "#333", "labelFont": "DejaVu Sans Mono", "labelFontSize": 10, "labelFontWeight": "bold", "labelColor": "#111", "labelPadding": 3, "labelFlush": false, "labelOverlap": false}},
  "y": {"field": "h", "type": "quantitative", "scale": {"domain": [0, 383], "nice": false, "zero": false}, "axis": null},
  "stroke": {"field": "s", "type": "nominal", "legend": null, "scale": {"domain": ["NCS","BLEND 1","BLEND 1 MEDICATED","TABLET 1","BLEND 2","BLEND 2 MEDICATED","TABLET 2","BLEND 3","BLEND 3 MEDICATED","TABLET 3","BLEND 4","BLEND 4 MEDICATED","TABLET 4"], "range": ["#1f9a2a","#2b2bb5","#e5262b","#3c3c3c","#e5262b","#2b2bb5","#3c3c3c","#e5262b","#2b2bb5","#3c3c3c","#e5262b","#2b2bb5","#3c3c3c"]}}
 }},
{"data": {"name": "minor"},
 "mark": {"type": "tick", "orient": "vertical", "size": 6, "thickness": 1.4, "color": "#333", "yOffset": 3},
 "encoding": {"x": {"field": "m", "type": "quantitative", "title": null}, "y": {"field": "base", "type": "quantitative", "axis": null}}},
{"data": {"name": "scan"}, "transform": [{"filter": "datum.p === 'D'"}],
 "mark": {"type": "rule", "color": "#6a6a6a", "strokeWidth": 2.5},
 "encoding": {"x": {"field": "Tmin", "type": "quantitative", "title": null}, "x2": {"field": "Tmax"}, "y": {"field": "base", "type": "quantitative", "axis": null}}},
{"data": {"name": "scan"}, "transform": [{"filter": "datum.p === 'D'"}],
 "mark": {"type": "text", "dy": 15, "align": "center", "baseline": "middle", "font": "DejaVu Sans Mono", "fontSize": 11, "fontWeight": "bold", "color": "#111"},
 "encoding": {"x": {"field": "Tu", "type": "quantitative", "title": null}, "y": {"field": "base", "type": "quantitative", "axis": null}, "text": {"field": "u"}}},
{"data": {"name": "labels"}, "transform": [{"filter": "datum.p === 'D'"}],
 "mark": {"type": "text", "align": "left", "baseline": "middle", "font": "Liberation Sans", "fontSize": 19},
 "encoding": {"x": {"field": "T", "type": "quantitative", "title": null}, "y": {"field": "h", "type": "quantitative", "axis": null}, "text": {"field": "s"},
  "fill": {"field": "s", "type": "nominal", "legend": null, "scale": {"domain": ["NCS","BLEND 1","BLEND 1 MEDICATED","TABLET 1","BLEND 2","BLEND 2 MEDICATED","TABLET 2","BLEND 3","BLEND 3 MEDICATED","TABLET 3","BLEND 4","BLEND 4 MEDICATED","TABLET 4"], "range": ["#5f9e58","#4d6da5","#e64a40","#1e1e1e","#e64a40","#4d6da5","#1e1e1e","#e64a40","#4d6da5","#1e1e1e","#e64a40","#4d6da5","#1e1e1e"]}}}},
{"data": {"name": "letters"}, "transform": [{"filter": "datum.p === 'D'"}],
 "mark": {"type": "text", "align": "left", "baseline": "middle", "font": "Liberation Sans", "fontSize": 25, "color": "#111"},
 "encoding": {"x": {"field": "T", "type": "quantitative", "title": null}, "y": {"field": "h", "type": "quantitative", "axis": null}, "text": {"field": "t"}}},
{"data": {"name": "bars"}, "transform": [{"filter": "datum.p === 'D'"}],
 "mark": {"type": "rule", "color": "#333", "strokeWidth": 1.5},
 "encoding": {"x": {"field": "Tb", "type": "quantitative", "title": null}, "y": {"field": "top", "type": "quantitative", "axis": null}, "y2": {"field": "bot"}}},
{"data": {"name": "bars"}, "transform": [{"filter": "datum.p === 'D'"}],
 "mark": {"type": "rule", "color": "#333", "strokeWidth": 1.5},
 "encoding": {"x": {"field": "Tl", "type": "quantitative", "title": null}, "x2": {"field": "Tb"}, "y": {"field": "top", "type": "quantitative", "axis": null}}},
{"data": {"name": "bars"}, "transform": [{"filter": "datum.p === 'D'"}],
 "mark": {"type": "rule", "color": "#333", "strokeWidth": 1.5},
 "encoding": {"x": {"field": "Tl", "type": "quantitative", "title": null}, "x2": {"field": "Tb"}, "y": {"field": "bot", "type": "quantitative", "axis": null}}},
{"data": {"name": "barText"}, "transform": [{"filter": "datum.p === 'D'"}],
 "mark": {"type": "text", "align": "center", "baseline": "middle", "font": "Liberation Mono", "fontSize": 12, "color": "#333"},
 "encoding": {"x": {"field": "T", "type": "quantitative", "title": null}, "y": {"field": "h", "type": "quantitative", "axis": null}, "text": {"field": "t"}}}
]
}
]
}
